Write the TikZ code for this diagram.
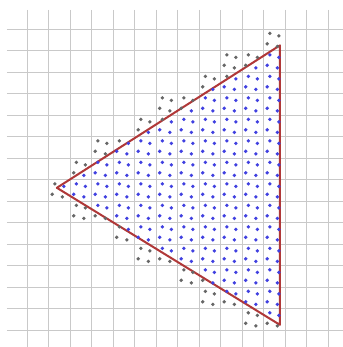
\documentclass[tikz,border=0pt]{standalone}
\usepackage{xcolor}
\usepackage{tikz}
\definecolor{edgered}{RGB}{176,56,56}
\definecolor{sampleblue}{RGB}{64,64,224}
\begin{document}
\begin{tikzpicture}[x=6mm,y=-6mm,
                    gridline/.style={draw=gray!42,line width=1.1pt},
                    edge/.style={draw=edgered,line width=1.6pt,line join=round},
                    insample/.style={fill=sampleblue},
                    outsample/.style={fill=black!60}]
\useasboundingbox (-1.27,-1.36) rectangle (14.68,14.78);
% pixel grid
\foreach \i in {0,...,14} {
  \draw[gridline] (\i,-0.9) -- (\i,14.78);
  \draw[gridline] (-0.95,\i) -- (14.68,\i);
}
% triangle
\coordinate (L) at (1.375,7.375);
\coordinate (T) at (11.75,0.75);
\coordinate (B) at (11.75,13.75);
\draw[edge] (L) -- (T) -- (B) -- cycle;
% four samples in every cell the triangle touches
\foreach \c in {1,...,11} {
  \pgfmathsetmacro{\xr}{min(\c+1,11.75)}
  \pgfmathtruncatemacro{\rlo}{floor(7.375-0.63855*(\xr-1.375)+0.05)}
  \pgfmathtruncatemacro{\rhi}{ceil(7.375+0.61446*(\xr-1.375)-0.05)-1}
  \foreach \r in {\rlo,...,\rhi} {
    \foreach \dx/\dy in {0.28/0.19,0.70/0.31,0.16/0.68,0.63/0.80} {
      \pgfmathsetmacro{\sx}{\c+\dx}
      \pgfmathsetmacro{\sy}{\r+\dy}
      \pgfmathtruncatemacro{\hit}{and(\sy>=7.375-0.63855*(\sx-1.375),\sy<=7.375+0.61446*(\sx-1.375))}
      \ifnum\hit=1 \fill[insample] (\sx,\sy) circle (1.5pt);
      \else \fill[outsample] (\sx,\sy) circle (1.5pt); \fi
    }
  }
}
\end{tikzpicture}
\end{document}
